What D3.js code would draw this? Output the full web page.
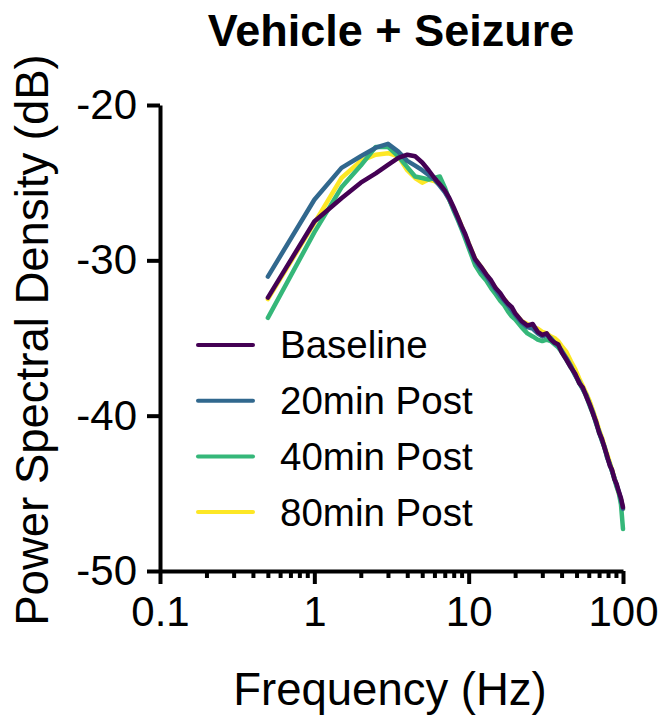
<!DOCTYPE html>
<html>
<head>
<meta charset="utf-8">
<script src="https://cdn.jsdelivr.net/npm/d3@7"></script>
<style>
  body { margin: 0; background: #fff; }
  svg { display: block; font-family: "Liberation Sans", Arial, Helvetica, sans-serif; }
</style>
</head>
<body>
<svg id="graph"></svg>
<script>
/* global d3 */

const freqs = [0.5, 1, 1.5, 2, 2.5, 3, 3.5, 4, 4.5, 5, 5.5, 6, 6.5, 7, 7.5, 8, 8.5, 9, 9.5, 10,
  11, 12, 13, 14, 15, 16, 17, 18, 19, 20,
  22, 24, 26, 28, 30, 32, 34, 36, 38, 40,
  43, 46, 49, 52, 55, 58, 61, 64, 67, 70, 73, 76, 79, 82, 85, 88, 91, 94, 97, 100]

const baseline = [-32.4, -27.5, -26.0, -25.0, -24.4, -23.85, -23.4, -23.2, -23.3, -23.7, -24.2, -24.7, -25.1, -25.5, -26.0, -26.6, -27.2, -27.8, -28.3, -28.9,
  -29.9, -30.4, -30.9, -31.3, -31.8, -32.1, -32.5, -32.8, -33.0, -33.4,
  -33.9, -34.2, -34.1, -34.6, -34.8, -34.7, -35.1, -35.3, -35.4, -35.9,
  -36.4, -36.9, -37.3, -37.9, -38.2, -38.8, -39.3, -39.9, -40.4, -41.1, -41.5, -42.1, -42.6, -43.2, -43.5, -44.1, -44.4, -44.9, -45.3, -45.9]

const post20 = [-31.05, -26.1, -24.05, -23.3, -22.75, -22.5, -23.0, -23.6, -23.9, -24.2, -24.5, -24.8, -25.2, -25.6, -26.1, -26.7, -27.3, -27.9, -28.4, -29.0,
  -30.0, -30.6, -31.0, -31.5, -31.9, -32.3, -32.6, -32.9, -33.2, -33.5,
  -34.0, -34.3, -34.4, -34.7, -34.9, -34.8, -35.0, -35.3, -35.5, -35.8,
  -36.3, -36.8, -37.4, -37.8, -38.3, -38.7, -39.3, -39.8, -40.5, -41.0, -41.6, -42.0, -42.7, -43.1, -43.6, -44.0, -44.5, -44.9, -45.4, -46.0]

const post40 = [-33.7, -28.2, -25.3, -23.9, -22.7, -22.7, -23.3, -24.0, -24.6, -24.7, -24.8, -24.7, -24.6, -25.3, -26.1, -26.8, -27.4, -28.0, -28.6, -29.2,
  -30.3, -30.9, -31.3, -31.8, -32.2, -32.6, -32.9, -33.3, -33.6, -33.8,
  -34.3, -34.7, -34.9, -35.1, -35.2, -35.1, -35.2, -35.4, -35.6, -35.9,
  -36.4, -36.9, -37.4, -37.9, -38.3, -38.8, -39.4, -39.9, -40.5, -41.1, -41.6, -42.1, -42.7, -43.1, -43.6, -44.1, -44.6, -45.0, -45.7, -47.3]

const post80 = [-32.5, -27.6, -24.7, -23.6, -23.2, -23.1, -23.3, -24.2, -24.7, -25.0, -24.8, -24.9, -25.1, -25.5, -26.1, -26.7, -27.2, -27.8, -28.4, -28.9,
  -29.9, -30.4, -30.9, -31.4, -31.8, -32.2, -32.5, -32.8, -33.1, -33.4,
  -33.9, -34.1, -34.3, -34.4, -34.6, -34.7, -34.9, -35.0, -35.2, -35.5,
  -35.9, -36.5, -37.0, -37.6, -38.1, -38.6, -39.1, -39.7, -40.3, -40.9, -41.4, -42.0, -42.5, -43.0, -43.5, -44.0, -44.5, -45.0, -45.4, -46.0]

const seriesNames = ['Baseline', '20min Post', '40min Post', '80min Post']
const xTicks = [0.1, 1, 10, 100]
const xMinorTicks = [0.2, 0.3, 0.4, 0.5, 0.6, 0.7, 0.8, 0.9, 2, 3, 4, 5, 6, 7, 8, 9, 20, 30, 40, 50, 60, 70, 80, 90]
const yTicks = [-20, -30, -40, -50]

document.addEventListener('DOMContentLoaded', function () {
  const width = 663
  const height = 717

  const colours = {
    'Baseline': '#440154',
    '20min Post': '#31688e',
    '40min Post': '#35b779',
    '80min Post': '#fde725'
  }

  const series = [
    { name: 'Baseline', values: baseline },
    { name: '20min Post', values: post20 },
    { name: '40min Post', values: post40 },
    { name: '80min Post', values: post80 }
  ]

  const svg = d3.select('#graph')
    .attr('width', width)
    .attr('height', height)

  const x = d3.scaleLog().domain([0.1, 100]).range([160, 623])
  const y = d3.scaleLinear().domain([-50, -20]).range([571, 105])

  const line = d3.line()
    .x(d => x(d[0]))
    .y(d => y(d[1]))

  // lines, baseline drawn last so it sits on top
  svg.append('g')
    .selectAll('path')
    .data(series.slice().reverse())
    .enter()
    .append('path')
    .attr('d', s => line(freqs.map((f, i) => [f, s.values[i]])))
    .attr('fill', 'none')
    .attr('stroke', s => colours[s.name])
    .attr('stroke-width', 4.5)
    .attr('stroke-linejoin', 'round')
    .attr('stroke-linecap', 'round')

  const styleAxis = g => {
    g.selectAll('path, line').attr('stroke', '#000').attr('stroke-width', 4)
    g.selectAll('text').attr('fill', '#000').style('font-size', '42px')
  }

  // x minor ticks
  svg.append('g')
    .attr('transform', `translate(0,${y(-50)})`)
    .call(d3.axisBottom(x).tickValues(xMinorTicks).tickSize(7).tickSizeOuter(0).tickFormat(''))
    .call(styleAxis)
    .call(g => g.select('.domain').remove())

  svg.append('g')
    .attr('transform', `translate(0,${y(-50)})`)
    .call(d3.axisBottom(x).tickValues(xTicks).tickSize(13).tickSizeOuter(0).tickPadding(12)
      .tickFormat(d => d < 1 ? '0.1' : String(d)))
    .call(styleAxis)

  svg.append('g')
    .attr('transform', `translate(${x(0.1)},0)`)
    .call(d3.axisLeft(y).tickValues(yTicks).tickSize(13).tickSizeOuter(0).tickPadding(10)
      .tickFormat(d => String(d)))
    .call(styleAxis)

  svg.append('text')
    .attr('x', 391)
    .attr('y', 46)
    .attr('text-anchor', 'middle')
    .style('font-size', '45px')
    .style('font-weight', 'bold')
    .text('Vehicle + Seizure')

  svg.append('text')
    .attr('x', 390)
    .attr('y', 705)
    .attr('text-anchor', 'middle')
    .style('font-size', '45.5px')
    .text('Frequency (Hz)')

  svg.append('text')
    .attr('transform', 'translate(48,340) rotate(-90)')
    .attr('text-anchor', 'middle')
    .style('font-size', '45.5px')
    .text('Power Spectral Density (dB)')

  // legend
  const legend = svg.append('g')
    .selectAll('g')
    .data(seriesNames)
    .enter()
    .append('g')
    .attr('transform', (d, i) => `translate(198,${345 + i * 55.7})`)

  legend.append('line')
    .attr('x1', 0)
    .attr('x2', 55)
    .attr('stroke', d => colours[d])
    .attr('stroke-width', 4)
    .attr('stroke-linecap', 'round')

  legend.append('text')
    .attr('x', 82)
    .attr('dy', '0.35em')
    .style('font-size', '38.5px')
    .text(d => d)
}, false)
</script>
</body>
</html>
